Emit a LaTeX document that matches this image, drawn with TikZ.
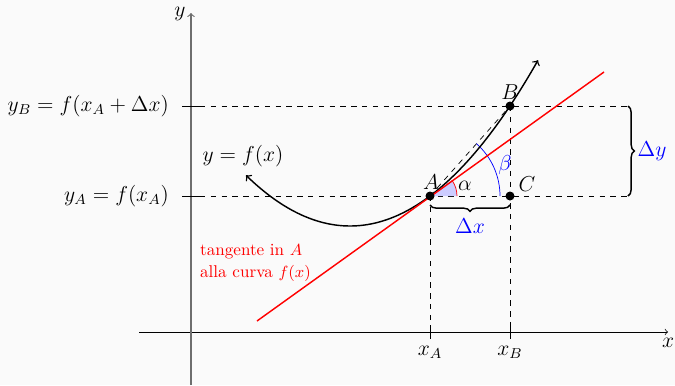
\documentclass[tikz,border=0pt]{standalone}
\usetikzlibrary{decorations.pathreplacing}
\definecolor{bg}{RGB}{250,250,250}
\definecolor{axisgray}{RGB}{110,110,110}
\begin{document}
\begin{tikzpicture}[x=0.5556pt,y=-0.5556pt,
  guide/.style={dashed,thin},
  pt/.style={circle,fill=black,inner sep=0pt,minimum size=5pt},
  lbl/.style={inner sep=1pt,font=\large}]
\fill[bg] (0,0) rectangle (675,385);
\useasboundingbox (0,0) rectangle (675,385);
% axes
\coordinate (xs) at (139,332); \coordinate (xe) at (668,332);
\coordinate (ys) at (191,385); \coordinate (ye) at (191,13);
\draw[->] (xs) -- (xe);
\draw[->,axisgray,semithick] (ys) -- (ye);
\node[lbl] (xl) at (668,343) {$x$};
\node[lbl] (yl) at (180,14) {$y$};
% points
\coordinate (A) at (430,196);
\coordinate (B) at (510,106);
\coordinate (C) at (510,196);
\coordinate (xA) at (430,332);
\coordinate (xB) at (510,332);
\coordinate (rA) at (628,196);
\coordinate (rB) at (628,106);
% ticks
\draw (182,196) -- (202,196);
\draw (182,106) -- (202,106);
\draw (430,325) -- (430,339);
\draw (510,325) -- (510,339);
% guides
\draw[guide] (200,196) -- (rA);
\draw[guide] (200,106) -- (rB);
\draw[guide] (A) -- (xA);
\draw[guide] (B) -- (xB);
\draw[guide] (A) -- (B);
% angles
\fill[blue!20] (A) -- ++(27,0) arc[start angle=0,end angle=-35.8,radius=27] -- cycle;
\draw[red] (A) ++(27,0) arc[start angle=0,end angle=-35.8,radius=27];
\draw[blue] (A) ++(70,0) arc[start angle=0,end angle=-48.4,radius=70];
% curve
\draw[thick,<->] plot[domain=246:538,samples=80,smooth] (\x,{226-46.9*((\x-350)/100)^2});
% tangent
\coordinate (t1) at (257,321);
\coordinate (t2) at (604,72);
\draw[red,thick] (t1) -- (t2);
% dots
\node[pt] (pA) at (A) {};
\node[pt] (pB) at (B) {};
\node[pt] (pC) at (C) {};
% braces
\draw[thick,decorate,decoration={brace,mirror,amplitude=3.5pt}] (430,205) -- (510,205);
\draw[thick,decorate,decoration={brace,amplitude=3.5pt}] (rB) -- (rA);
% labels
\node[lbl] (lA) at (431,182) {$A$};
\node[lbl] (lB) at (510,92) {$B$};
\node[lbl] (lC) at (527,184) {$C$};
\node[lbl] (la) at (465,186) {$\alpha$};
\node[lbl,blue] (lb) at (505,165) {$\beta$};
\node[lbl,blue] (ldx) at (470,226) {$\Delta x$};
\node[lbl,blue] (ldy) at (652,151) {$\Delta y$};
\node[lbl] (lxA) at (430,352) {$x_A$};
\node[lbl] (lxB) at (510,352) {$x_B$};
\node[lbl,anchor=east] (lyA) at (171,196) {$y_A=f(x_A)$};
\node[lbl,anchor=east] (lyB) at (171,106) {$y_B=f(x_A+\Delta x)$};
\node[lbl] (lf) at (243,156) {$y=f(x)$};
\node[inner sep=1pt,red,font=\fontsize{9.5}{12}\selectfont,align=left,anchor=west] (lt) at (198,263) {tangente in $A$\\alla curva $f(x)$};
\end{tikzpicture}
\end{document}
